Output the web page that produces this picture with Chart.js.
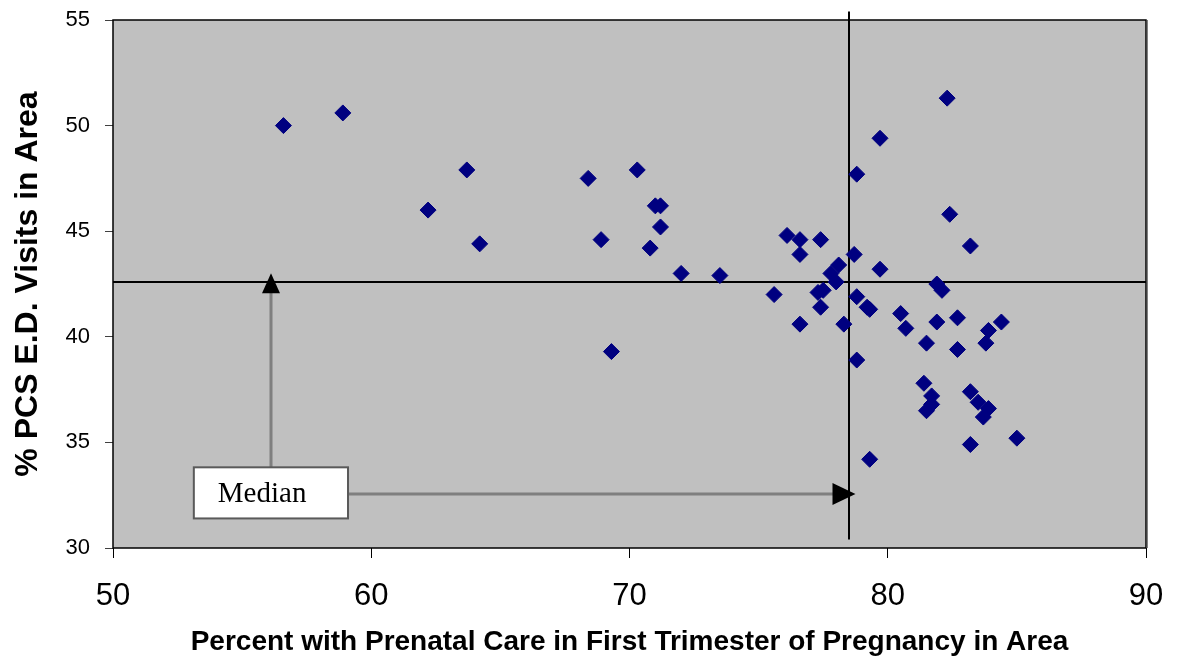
<!DOCTYPE html>
<html>
<head>
<meta charset="utf-8">
<script src="https://cdn.jsdelivr.net/npm/chart.js@4/dist/chart.umd.min.js"></script>
<style>
  html, body { margin: 0; padding: 0; background: #ffffff; }
  canvas { display: block; }
</style>
</head>
<body>
<canvas id="scatterChart" width="1177" height="660"></canvas>
<script>
// percent with prenatal care in first trimester (x) and % PCS E.D. visits (y)
const prenatalPct = [
  56.6, 58.9, 62.2, 63.7, 64.2, 68.4, 68.9, 69.3, 70.3, 71.0,
  71.2, 71.2, 70.8, 72.0, 73.5, 75.6, 76.1, 76.6, 77.4, 76.6,
  78.7, 78.1, 79.7, 77.8, 78.0, 81.9, 82.1, 77.3, 77.5, 78.8,
  79.2, 79.3, 77.4, 80.5, 76.6, 78.3, 80.7, 81.9, 82.7, 83.9,
  84.4, 81.5, 82.7, 83.8, 78.8, 81.4, 81.7, 81.7, 81.5, 83.2,
  83.5, 83.9, 83.7, 85.0, 83.2, 79.3, 82.3, 79.7, 78.8, 82.4,
  83.2
];
const edVisitPct = [
  50.0, 50.6, 46.0, 47.9, 44.4, 47.5, 44.6, 39.3, 47.9, 46.2,
  46.2, 45.2, 44.2, 43.0, 42.9, 42.0, 44.8, 44.6, 44.6, 43.9,
  43.9, 43.4, 43.2, 43.0, 42.6, 42.5, 42.2, 42.1, 42.2, 41.9,
  41.4, 41.3, 41.4, 41.1, 40.6, 40.6, 40.4, 40.7, 40.9, 40.3,
  40.7, 39.7, 39.4, 39.7, 38.9, 37.8, 37.2, 36.8, 36.5, 37.4,
  36.9, 36.6, 36.2, 35.2, 34.9, 34.2, 51.3, 49.4, 47.7, 45.8,
  44.3
];

const xTicks = [50, 60, 70, 80, 90];
const yTicks = [30, 35, 40, 45, 50, 55];

// medians and the "Median" callout, in data units
const medianPrenatal = 78.5;
const medianVisits = 42.6;
const medianLineTop = 55.4;
const medianLineBottom = 30.4;
const calloutBox = { left: 53.13, right: 59.1, top: 33.82, bottom: 31.4 };
const calloutArrowX = 56.11;
const calloutArrowY = 32.58;
const calloutArrowEndX = 78.75;
const calloutArrowEndY = 43.01;

const points = prenatalPct.map((x, i) => ({ x, y: edVisitPct[i] }));

const plotFramePlugin = {
  id: "plotFrame",
  beforeDatasetsDraw(chart) {
    const { ctx, chartArea, scales } = chart;
    const { left, right, top, bottom } = chartArea;
    ctx.save();
    ctx.fillStyle = "#c0c0c0";
    ctx.fillRect(left, top, right - left, bottom - top);

    // median lines
    ctx.strokeStyle = "#000000";
    ctx.lineWidth = 2;
    const hy = Math.round(scales.y.getPixelForValue(medianVisits));
    ctx.beginPath();
    ctx.moveTo(left, hy);
    ctx.lineTo(right, hy);
    ctx.stroke();
    const vx = Math.round(scales.x.getPixelForValue(medianPrenatal));
    ctx.beginPath();
    ctx.moveTo(vx, scales.y.getPixelForValue(medianLineTop));
    ctx.lineTo(vx, scales.y.getPixelForValue(medianLineBottom));
    ctx.stroke();

    // frame
    ctx.lineWidth = 1.5;
    ctx.strokeRect(left, top, right - left, bottom - top);
    ctx.strokeStyle = "#808080";
    ctx.lineWidth = 1;
    ctx.beginPath();
    ctx.moveTo(right + 1.5, top);
    ctx.lineTo(right + 1.5, bottom);
    ctx.stroke();
    ctx.restore();
  },
  afterDatasetsDraw(chart) {
    const { ctx, scales } = chart;
    const sx = (v) => scales.x.getPixelForValue(v);
    const sy = (v) => scales.y.getPixelForValue(v);

    const boxL = sx(calloutBox.left);
    const boxR = sx(calloutBox.right);
    const boxT = sy(calloutBox.top);
    const boxB = sy(calloutBox.bottom);
    const ax = Math.round(sx(calloutArrowX));
    const ay = Math.round(sy(calloutArrowY));
    const upTip = sy(calloutArrowEndY);
    const rightTip = sx(calloutArrowEndX);

    ctx.save();
    // arrow stems
    ctx.strokeStyle = "#7f7f7f";
    ctx.lineWidth = 3;
    ctx.beginPath();
    ctx.moveTo(ax, boxT);
    ctx.lineTo(ax, upTip + 16);
    ctx.moveTo(boxR, ay);
    ctx.lineTo(rightTip - 18, ay);
    ctx.stroke();

    // arrow heads
    ctx.fillStyle = "#000000";
    ctx.beginPath();
    ctx.moveTo(ax, upTip);
    ctx.lineTo(ax - 9, upTip + 20);
    ctx.lineTo(ax + 9, upTip + 20);
    ctx.closePath();
    ctx.fill();
    ctx.beginPath();
    ctx.moveTo(rightTip, ay);
    ctx.lineTo(rightTip - 23, ay - 11);
    ctx.lineTo(rightTip - 23, ay + 11);
    ctx.closePath();
    ctx.fill();

    // callout box
    ctx.fillStyle = "#ffffff";
    ctx.fillRect(boxL, boxT, boxR - boxL, boxB - boxT);
    ctx.strokeStyle = "#5a5a5a";
    ctx.lineWidth = 2;
    ctx.strokeRect(boxL, boxT, boxR - boxL, boxB - boxT);
    ctx.fillStyle = "#000000";
    ctx.font = "29px 'Liberation Serif', 'Times New Roman', serif";
    ctx.textBaseline = "alphabetic";
    ctx.textAlign = "left";
    ctx.fillText("Median", boxL + 24, boxT + 35);
    ctx.restore();
  }
};

new Chart(document.getElementById("scatterChart"), {
  type: "scatter",
  data: {
    datasets: [
      {
        label: "Areas",
        data: points,
        pointStyle: "rectRot",
        pointRadius: 8,
        pointHoverRadius: 8,
        backgroundColor: "#000080",
        borderColor: "#000080",
        borderWidth: 1
      }
    ]
  },
  options: {
    responsive: false,
    animation: false,
    layout: {
      padding: { top: 20, right: 31, left: 0, bottom: 0 }
    },
    plugins: {
      legend: { display: false },
      tooltip: { enabled: false }
    },
    scales: {
      x: {
        type: "linear",
        min: 50,
        max: 90,
        afterFit(scale) {
          scale.height = 112;
          scale.paddingLeft = 0;
          scale.paddingRight = 0;
        },
        afterBuildTicks(scale) {
          scale.ticks = xTicks.map((v) => ({ value: v }));
        },
        border: { display: false },
        grid: {
          display: true,
          drawOnChartArea: false,
          drawTicks: true,
          tickLength: 10,
          color: "#000000"
        },
        ticks: {
          color: "#000000",
          padding: 20,
          maxRotation: 0,
          font: { family: "'Liberation Sans', Arial, sans-serif", size: 31 }
        },
        title: {
          display: true,
          text: "Percent with Prenatal Care in First Trimester of Pregnancy in Area",
          color: "#000000",
          padding: { top: 0, bottom: 1 },
          font: { family: "'Liberation Sans', Arial, sans-serif", size: 28, weight: "bold" }
        }
      },
      y: {
        type: "linear",
        min: 30,
        max: 55,
        afterFit(scale) {
          scale.width = 113;
          scale.paddingTop = 0;
          scale.paddingBottom = 0;
        },
        afterBuildTicks(scale) {
          scale.ticks = yTicks.map((v) => ({ value: v }));
        },
        border: { display: false },
        grid: {
          display: true,
          drawOnChartArea: false,
          drawTicks: true,
          tickLength: 8,
          color: "#404040"
        },
        ticks: {
          color: "#000000",
          padding: 15,
          font: { family: "'Liberation Sans', Arial, sans-serif", size: 22 }
        },
        title: {
          display: true,
          text: "% PCS E.D. Visits in Area",
          color: "#000000",
          padding: { top: 9, bottom: 0 },
          font: { family: "'Liberation Sans', Arial, sans-serif", size: 32, weight: "bold" }
        }
      }
    }
  },
  plugins: [plotFramePlugin]
});
</script>
</body>
</html>
